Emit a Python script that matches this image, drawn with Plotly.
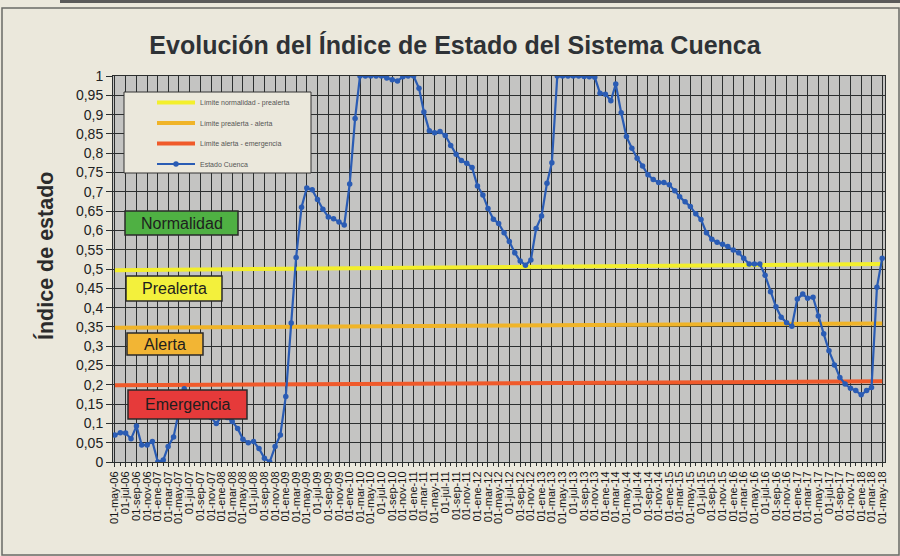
import pandas as pd
import plotly.graph_objects as go

# ---- data ----
start_month = "2006-05-01"
estado_cuenca = [
    0.070, 0.076, 0.075, 0.060, 0.093, 0.044, 0.044, 0.053, 0.000, 0.005,
    0.040, 0.065, 0.130, 0.190, 0.170, 0.150, 0.135, 0.120, 0.115, 0.100,
    0.118, 0.115, 0.105, 0.087, 0.059, 0.050, 0.053, 0.035, 0.010, 0.000,
    0.040, 0.070, 0.170, 0.360, 0.530, 0.660, 0.710, 0.705, 0.680, 0.655,
    0.635, 0.630, 0.622, 0.614, 0.720, 0.890, 1.000, 1.000, 1.000, 1.000,
    1.000, 0.995, 0.990, 0.987, 0.998, 1.000, 1.000, 0.968, 0.907, 0.858,
    0.853, 0.856, 0.846, 0.820, 0.797, 0.781, 0.774, 0.763, 0.715, 0.692,
    0.657, 0.629, 0.618, 0.594, 0.571, 0.542, 0.521, 0.510, 0.523, 0.605,
    0.637, 0.722, 0.775, 1.000, 1.000, 1.000, 1.000, 1.000, 0.999, 0.998,
    0.997, 0.955, 0.953, 0.936, 0.979, 0.905, 0.843, 0.813, 0.787, 0.767,
    0.744, 0.732, 0.724, 0.724, 0.718, 0.703, 0.687, 0.674, 0.662, 0.643,
    0.628, 0.594, 0.577, 0.569, 0.564, 0.558, 0.549, 0.542, 0.528, 0.513,
    0.513, 0.513, 0.484, 0.441, 0.402, 0.375, 0.361, 0.352, 0.422, 0.435,
    0.424, 0.427, 0.378, 0.332, 0.288, 0.251, 0.219, 0.202, 0.191, 0.185,
    0.174, 0.185, 0.193, 0.453, 0.528,
]
# threshold lines (value at first and last month, as drawn)
limite_normalidad_prealerta = [0.497, 0.513]
limite_prealerta_alerta = [0.348, 0.359]
limite_alerta_emergencia = [0.199, 0.209]

series_names = ["Límite normalidad - prealerta", "Límite prealerta - alerta",
                "Límite alerta - emergencia", "Estado Cuenca"]
meses_es = ["ene", "feb", "mar", "abr", "may", "jun", "jul", "ago", "sep", "oct", "nov", "dic"]
y_tick_values = [round(0.05 * k, 2) for k in range(21)]
y_tick_labels = ["0", "0,05", "0,1", "0,15", "0,2", "0,25", "0,3", "0,35", "0,4", "0,45", "0,5",
                 "0,55", "0,6", "0,65", "0,7", "0,75", "0,8", "0,85", "0,9", "0,95", "1"]
zonas = ["Normalidad", "Prealerta", "Alerta", "Emergencia"]

fechas = pd.date_range(start=start_month, periods=len(estado_cuenca), freq="MS")
x_tick_vals = list(fechas[::2])
x_tick_text = [f"01-{meses_es[d.month - 1]}-{d.year % 100:02d}" for d in x_tick_vals]
ends = [fechas[0], fechas[-1]]

FONT = "Liberation Sans, Arial, sans-serif"
fig = go.Figure()

fig.add_trace(go.Scatter(x=ends, y=limite_normalidad_prealerta, mode="lines", name=series_names[0],
                         line=dict(color="#f3ef2c", width=4), legendgroup="a"))
fig.add_trace(go.Scatter(x=ends, y=limite_prealerta_alerta, mode="lines", name=series_names[1],
                         line=dict(color="#f0b428", width=4), legendgroup="b"))
fig.add_trace(go.Scatter(x=ends, y=limite_alerta_emergencia, mode="lines", name=series_names[2],
                         line=dict(color="#f05a2a", width=4), legendgroup="c"))
fig.add_trace(go.Scatter(x=fechas, y=estado_cuenca, mode="lines+markers", name=series_names[3],
                         line=dict(color="#2a5cb4", width=2.2),
                         marker=dict(color="#2a5cb4", size=5.5), legendgroup="d"))

W, H = 900, 556
L, R, T, B = 113, 15, 76, 94
pw, ph = W - L - R, H - T - B


def px(x):
    return (x - L) / pw


def py(y):
    return (H - B - y) / ph


shapes = []
# page frame and top scan band
shapes.append(dict(type="rect", xref="paper", yref="paper", x0=px(2), x1=px(899), y0=py(555), y1=py(8),
                   line=dict(color="#6a6a66", width=1.5), fillcolor="rgba(0,0,0,0)", layer="below"))
shapes.append(dict(type="rect", xref="paper", yref="paper", x0=px(60), x1=px(900), y0=py(3), y1=py(0),
                   line=dict(width=0), fillcolor="#5a5a5a", layer="below"))
# legend box
shapes.append(dict(type="rect", xref="paper", yref="paper", x0=px(124), x1=px(311), y0=py(173), y1=py(92),
                   line=dict(color="#333333", width=1), fillcolor="#ebe8dc", layer="above"))

zona_boxes = [  # x0px, x1px, y0px(top), y1px(bottom), color
    (125, 238, 211, 235, "#4fb043"),
    (126, 222, 276, 301, "#f3f03c"),
    (127, 203, 333, 355, "#f2b534"),
    (128, 247, 390, 419, "#e63a3a"),
]
annotations = []
for name, (x0, x1, y0, y1, col) in zip(zonas, zona_boxes):
    shapes.append(dict(type="rect", xref="paper", yref="paper", x0=px(x0), x1=px(x1), y0=py(y1), y1=py(y0),
                       line=dict(color="#2a2a2a", width=1.5), fillcolor=col, layer="above"))
    annotations.append(dict(text=name, xref="paper", yref="paper", x=px((x0 + x1) / 2), y=py((y0 + y1) / 2),
                            showarrow=False, font=dict(family=FONT, size=16, color="#1e1e1e"),
                            xanchor="center", yanchor="middle"))

annotations.append(dict(text="<b>Índice de estado</b>", xref="paper", yref="paper", x=px(45), y=py(256),
                        textangle=-90, showarrow=False, font=dict(family=FONT, size=21.5, color="#2b2b2b"),
                        xanchor="center", yanchor="middle"))

fig.update_layout(
    width=W, height=H,
    margin=dict(l=L, r=R, t=T, b=B),
    paper_bgcolor="#ebe8dc",
    plot_bgcolor="#c4c4c2",
    title=dict(text="<b>Evolución del Índice de Estado del Sistema Cuenca</b>",
               x=455 / W, xanchor="center", y=1 - 45 / H, yanchor="middle",
               font=dict(family=FONT, size=25, color="#2e3236")),
    shapes=shapes,
    annotations=annotations,
    showlegend=True,
    legend=dict(x=px(152), y=py(88), xanchor="left", yanchor="top",
                bgcolor="rgba(0,0,0,0)", borderwidth=0,
                font=dict(family=FONT, size=7, color="#555555"),
                tracegroupgap=1.5, itemwidth=38),
)

fig.update_xaxes(
    type="date",
    range=[pd.Timestamp("2006-04-20"), pd.Timestamp("2018-05-17")],
    tickmode="array", tickvals=x_tick_vals, ticktext=x_tick_text, tickangle=-90,
    tickfont=dict(family=FONT, size=11, color="#151515"),
    showgrid=True, gridcolor="#2c2f2f", gridwidth=1,
    showline=True, linecolor="#2c2f2f", linewidth=1, mirror=True,
    ticks="outside", ticklen=4, tickcolor="#2c2f2f",
    minor=dict(tickvals=list(fechas), ticks="outside", ticklen=3, tickcolor="#2c2f2f", showgrid=False),
    zeroline=False,
)
fig.update_yaxes(
    range=[0, 1], tickmode="array", tickvals=y_tick_values, ticktext=y_tick_labels,
    tickfont=dict(family=FONT, size=14, color="#222222"),
    showgrid=True, gridcolor="#2c2f2f", gridwidth=1,
    showline=True, linecolor="#2c2f2f", linewidth=1, mirror=True,
    ticks="outside", ticklen=6, tickcolor="#2c2f2f",
    zeroline=False,
)

fig.write_html("out.html", config={"displayModeBar": False},
               post_script="document.body.style.margin='0';document.body.style.padding='0';")
